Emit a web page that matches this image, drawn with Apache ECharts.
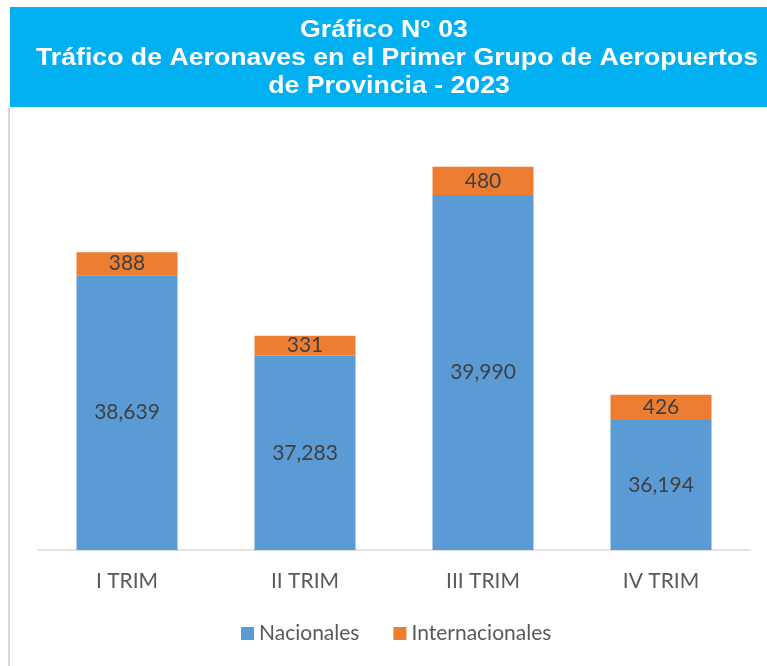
<!DOCTYPE html>
<html>
<head>
<meta charset="utf-8">
<script src="https://cdn.jsdelivr.net/npm/echarts@6/dist/echarts.min.js"></script>
<style>
  html, body { margin: 0; padding: 0; background: #fff; }
  #chart { width: 767px; height: 666px; }
</style>
</head>
<body>
<div id="chart"></div>
<script>
const categories = ["I TRIM", "II TRIM", "III TRIM", "IV TRIM"];
const nacionales = [38639, 37283, 39990, 36194];
const internacionales = [388, 331, 480, 426];
const titleLines = [
  "Gráfico N° 03",
  "Tráfico de Aeronaves en el Primer Grupo de Aeropuertos",
  "de Provincia - 2023",
];

const chart = echarts.init(document.getElementById("chart"));

const labelFont = {
  fontFamily: "Lato",
  fontSize: 21,
  color: "#404040",
};

// each title line sits a little off-centre in the original
const titleX = [384, 397, 389];
const titleY = [31, 59, 87];

const titleTexts = titleLines.map((line, i) => ({
  type: "text",
  x: titleX[i],
  y: titleY[i],
  scaleX: 1.16,
  z: 11,
  style: {
    text: line,
    fill: "#fff",
    font: "bold 23px 'Liberation Sans'",
    align: "center",
    verticalAlign: "middle",
  },
}));

const option = {
  animation: false,
  backgroundColor: "#fff",
  graphic: [
    {
      type: "rect",
      shape: { x: 10, y: 7, width: 757, height: 100 },
      style: { fill: "#00B0F0" },
      z: 10,
    },
    {
      type: "line",
      shape: { x1: 9, y1: 107, x2: 9, y2: 666 },
      style: { stroke: "#D9D9D9", lineWidth: 2 },
      z: 10,
    },
    ...titleTexts,
  ],
  legend: {
    bottom: 17,
    left: 236,
    icon: "rect",
    itemWidth: 13,
    itemHeight: 13,
    itemGap: 34,
    textStyle: { fontFamily: "Lato", fontSize: 21, color: "#595959" },
    data: ["Nacionales", "Internacionales"],
  },
  grid: {
    left: 38,
    right: 17,
    top: 76,
    bottom: 116,
  },
  xAxis: {
    type: "category",
    data: categories,
    axisLine: { lineStyle: { color: "#D9D9D9", width: 1.5 } },
    axisTick: { show: false },
    axisLabel: {
      fontFamily: "Lato",
      fontSize: 21,
      color: "#595959",
      margin: 21,
    },
  },
  yAxis: {
    type: "value",
    min: 34000,
    max: 42000,
    show: false,
    splitLine: { show: false },
  },
  series: [
    {
      name: "Nacionales",
      type: "bar",
      stack: "total",
      barWidth: 101,
      data: nacionales,
      itemStyle: { color: "#5B9BD5" },
      label: {
        show: true,
        position: "inside",
        ...labelFont,
        formatter: (p) => p.value.toLocaleString("en-US"),
      },
    },
    {
      name: "Internacionales",
      type: "bar",
      stack: "total",
      barWidth: 101,
      data: internacionales,
      itemStyle: { color: "#ED7D31" },
      label: {
        show: true,
        position: "inside",
        ...labelFont,
      },
    },
  ],
};

chart.setOption(option);
</script>
</body>
</html>
